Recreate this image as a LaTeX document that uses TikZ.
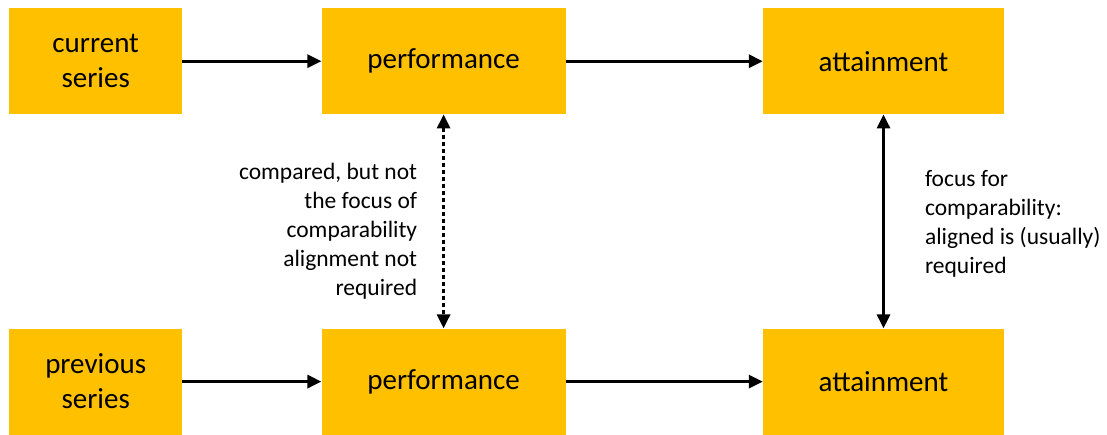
\documentclass[tikz,border=0pt]{standalone}
\usepackage{fontspec}
\setmainfont{Carlito}
\usetikzlibrary{positioning,arrows.meta}
\definecolor{boxyellow}{HTML}{FFC000}

\begin{document}
\begin{tikzpicture}[x=1pt,y=1pt,
		stagebox/.style={rectangle,fill=boxyellow,inner sep=0pt,minimum height=106pt,align=center,font=\fontsize{29}{35}\selectfont},
		flow/.style={line width=3pt,-{Triangle[length=14pt,width=13pt]}},
		link/.style={line width=3pt,{Triangle[length=14pt,width=13pt]}-{Triangle[length=14pt,width=13pt]}},
		note/.style={inner sep=0pt,font=\fontsize{23.5}{29}\selectfont}]
		\node[stagebox,minimum width=173pt]									(cur)		{current\\series};
		\node[stagebox,minimum width=244pt,right=139pt of cur]					(curperf)	{performance};
		\node[stagebox,minimum width=241pt,right=197pt of curperf]			(curatt)	{attainment};
		\node[stagebox,minimum width=173pt,below=214pt of cur]				(prev)		{previous\\series};
		\node[stagebox,minimum width=244pt,below=214pt of curperf]			(prevperf)	{performance};
		\node[stagebox,minimum width=241pt,below=214pt of curatt]			(prevatt)	{attainment};

		\useasboundingbox ([xshift=-9pt,yshift=8pt]cur.north west) rectangle ++(1107pt,-432pt);

		\draw[flow] (cur) -- (curperf);
		\draw[flow] (curperf) -- (curatt);
		\draw[flow] (prev) -- (prevperf);
		\draw[flow] (prevperf) -- (prevatt);
		\draw[link,dash pattern=on 4pt off 3pt] (curperf) -- node[note,align=right,left=25pt,yshift=-10pt] {compared, but not\\the focus of\\comparability\\alignment not\\required} (prevperf);
		\draw[link] (curatt) -- node[note,align=left,right=40pt,yshift=-2pt] {focus for\\comparability:\\aligned is (usually)\\required} (prevatt);
	\end{tikzpicture}
\end{document}
